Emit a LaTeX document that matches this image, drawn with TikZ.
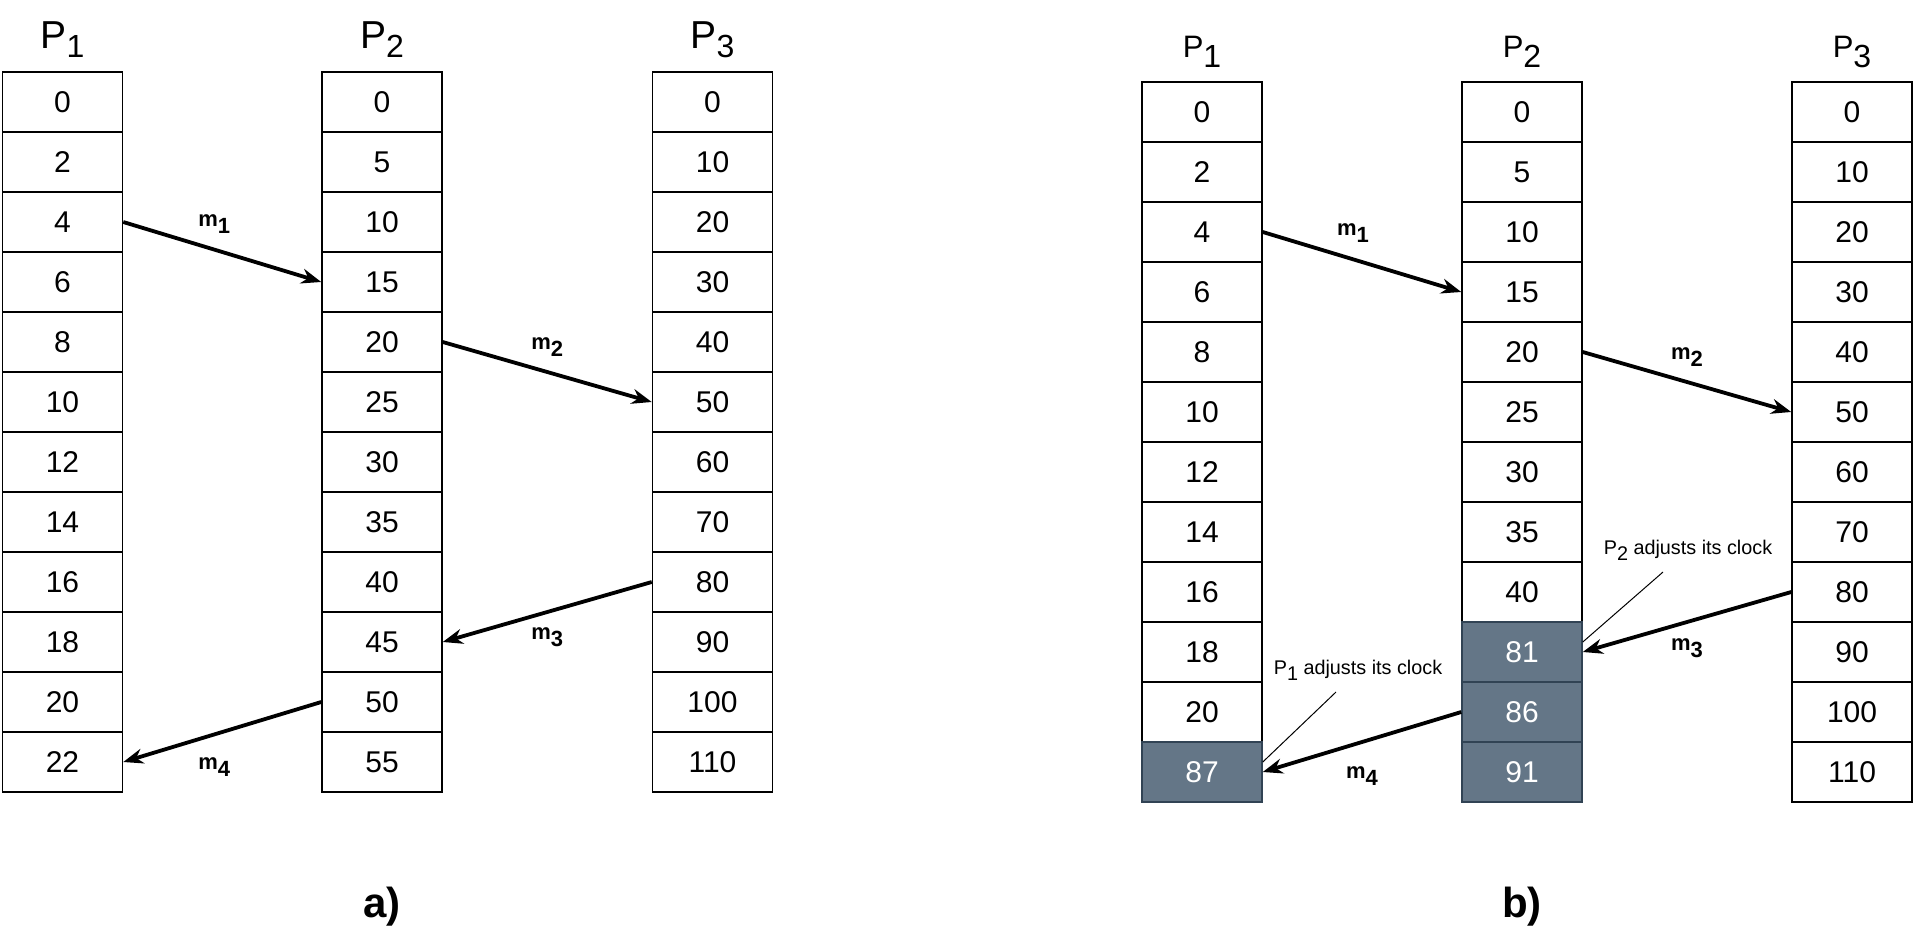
\documentclass[tikz,border=0pt]{standalone}
\usepackage{fontspec}
\setmainfont{Liberation Sans}
\usepackage{tikz}
\usetikzlibrary{arrows.meta}
\definecolor{slate}{HTML}{647687}
\definecolor{slateline}{HTML}{314354}
\newcommand{\lowsub}[2][-0.3em]{\raisebox{#1}{#2}}

\begin{document}
\begin{tikzpicture}[x=0.5pt, y=-0.5pt,
    cell/.style={draw, line width=0.75pt, minimum width=60pt, minimum height=30pt, inner sep=0pt, font=\fontsize{15}{15}\selectfont},
    hot/.style={cell, fill=slate, draw=slateline, text=white},
    ttla/.style={anchor=base, font=\fontsize{19.5}{19.5}\selectfont},
    ttlb/.style={anchor=base, font=\fontsize{15.5}{15.5}\selectfont},
    msg/.style={-{Stealth[length=10pt,width=7.5pt]}, line width=1.9pt},
    lbl/.style={inner sep=0pt, font=\bfseries\fontsize{11}{11}\selectfont},
    note/.style={inner sep=0pt, font=\fontsize{9.9}{9.9}\selectfont},
    leader/.style={line width=0.5pt}]
    \useasboundingbox (0,0) rectangle (1915,944);
    \foreach \n/\x in {1/62.5,2/382,3/712.5}
        \node[ttla] (ta\n) at (\x,48) {P\lowsub[-4.5pt]{\fontsize{16}{16}\selectfont\n}};
    \foreach \n/\x in {1/1202,2/1522,3/1852}
        \node[ttlb] (tb\n) at (\x,57) {P\lowsub[-5pt]{\fontsize{16}{16}\selectfont\n}};
    \foreach \v [count=\i from 0] in {0,2,4,6,8,10,12,14,16,18,20,22}
        \node[cell] (a1-\i) at (62.5,102+60*\i) {\v};
    \foreach \v [count=\i from 0] in {0,5,10,15,20,25,30,35,40,45,50,55}
        \node[cell] (a2-\i) at (382,102+60*\i) {\v};
    \foreach \v [count=\i from 0] in {0,10,20,30,40,50,60,70,80,90,100,110}
        \node[cell] (a3-\i) at (712.5,102+60*\i) {\v};
    \foreach \v/\s [count=\i from 0] in {0/cell,2/cell,4/cell,6/cell,8/cell,10/cell,12/cell,14/cell,16/cell,18/cell,20/cell,87/hot}
        \node[\s] (b1-\i) at (1202,112+60*\i) {\v};
    \foreach \v/\s [count=\i from 0] in {0/cell,5/cell,10/cell,15/cell,20/cell,25/cell,30/cell,35/cell,40/cell,81/hot,86/hot,91/hot}
        \node[\s] (b2-\i) at (1522,112+60*\i) {\v};
    \foreach \v [count=\i from 0] in {0,10,20,30,40,50,60,70,80,90,100,110}
        \node[cell] (b3-\i) at (1852,112+60*\i) {\v};
    \draw[msg] (a1-2.east) -- (a2-3.west) node[lbl, midway, xshift=-4pt, yshift=14pt] (m1a) {m\lowsub{1}};
    \draw[msg] (a2-4.east) -- (a3-5.west) node[lbl, midway, yshift=12.5pt] (m2a) {m\lowsub{2}};
    \draw[msg] (a3-8.west) -- (a2-9.east) node[lbl, midway, yshift=-12.5pt] (m3a) {m\lowsub{3}};
    \draw[msg] (a2-10.west) -- (a1-11.east) node[lbl, midway, xshift=-4pt, yshift=-17.5pt] (m4a) {m\lowsub{4}};
    \draw[msg] (b1-2.east) -- (b2-3.west) node[lbl, midway, xshift=-4.5pt, yshift=14.5pt] (m1b) {m\lowsub{1}};
    \draw[msg] (b2-4.east) -- (b3-5.west) node[lbl, midway, yshift=12.5pt] (m2b) {m\lowsub{2}};
    \draw[msg] (b3-8.west) -- (b2-9.east) node[lbl, midway, yshift=-13pt] (m3b) {m\lowsub{3}};
    \draw[msg] (b2-10.west) -- (b1-11.east) node[lbl, midway, yshift=-17pt] (m4b) {m\lowsub{4}};
    \node[note] (adj2) at (1688,550) {P\lowsub{2} adjusts its clock};
    \coordinate (adj2s) at (1663,572);
    \draw[leader] (adj2s) -- ([yshift=5pt]b2-9.east);
    \node[note] (adj1) at (1358,670) {P\lowsub{1} adjusts its clock};
    \coordinate (adj1s) at (1336,692);
    \draw[leader] (adj1s) -- ([yshift=5pt]b1-11.east);
    \node[font=\bfseries\fontsize{21}{21}\selectfont] (capa) at (382,907) {a)};
    \node[font=\bfseries\fontsize{21}{21}\selectfont] (capb) at (1522,907) {b)};
\end{tikzpicture}
\end{document}
